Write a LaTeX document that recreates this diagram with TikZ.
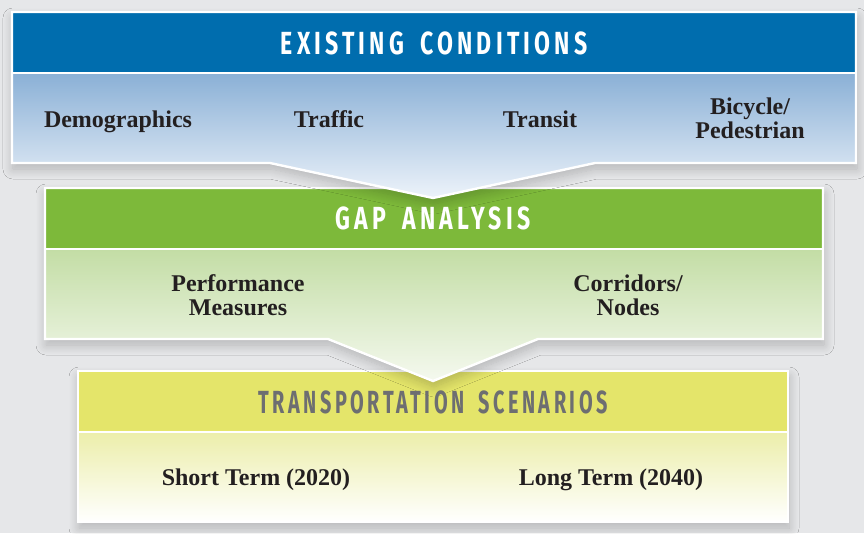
\documentclass[tikz,border=0pt]{standalone}
\usepackage{fontspec}
\setmainfont{Liberation Serif}
\newfontfamily\headfont[FakeStretch=0.72,LetterSpace=13,WordSpace=1.7]{Fira Sans}
\newfontfamily\headfontnarrow[FakeStretch=0.62,LetterSpace=11,WordSpace=1.7]{Fira Sans}
\usetikzlibrary{shadows.blur}

\definecolor{pagegray}{HTML}{E6E7E9}
\definecolor{condblue}{HTML}{006DAE}
\definecolor{condlight}{HTML}{8AB0D6}
\definecolor{condpale}{HTML}{EDF3FA}
\definecolor{gapgreen}{HTML}{7DB93A}
\definecolor{gaplight}{HTML}{C3DDA5}
\definecolor{gappale}{HTML}{F5F9EF}
\definecolor{scenyellow}{HTML}{E4E56A}
\definecolor{scenlight}{HTML}{ECEEAA}
\definecolor{titlegray}{HTML}{6D6E71}
\definecolor{itemblack}{HTML}{231F20}

\begin{document}
\begin{tikzpicture}[x=1pt, y=-1pt,
        panelshadow/.style={fill=white, blur shadow={shadow xshift=1pt, shadow yshift=-6pt, shadow blur radius=10pt, shadow blur steps=12, shadow opacity=22}},
        rim/.style={draw=white, line width=2.4pt, line join=miter},
        headtext/.style={font=\headfont\bfseries\fontsize{32}{32}\selectfont, inner sep=0pt},
        item/.style={font=\bfseries\fontsize{24}{24}\selectfont, text=itemblack, align=center, inner sep=0pt},
        ]
    \fill[pagegray] (0,0) rectangle (864,533);
    \useasboundingbox (0,0) rectangle (864,533);

    % transportation scenarios
    \path[panelshadow] (78,371) rectangle (788,522);
    \shade[top color=scenlight, bottom color=white] (78,432) rectangle (788,522);
    \fill[scenyellow] (78,371) rectangle (788,432);
    \draw[rim] (78,371) rectangle (788,522);
    \draw[rim] (78,432) -- (788,432);

    % gap analysis
    \path[panelshadow] (45,188) -- (823,188) -- (823,339) -- (538,339) -- (433,381) -- (328,339) -- (45,339) -- cycle;
    \shade[top color=gaplight, bottom color=gappale] (45,249) -- (823,249) -- (823,339) -- (538,339) -- (433,381) -- (328,339) -- (45,339) -- cycle;
    \fill[gapgreen] (45,188) rectangle (823,249);
    \draw[rim] (45,188) -- (823,188) -- (823,339) -- (538,339) -- (433,381) -- (328,339) -- (45,339) -- cycle;
    \draw[rim] (45,249) -- (823,249);

    % existing conditions
    \path[panelshadow] (12,12) -- (856,12) -- (856,163) -- (595,163) -- (433,198) -- (270,163) -- (12,163) -- cycle;
    \shade[top color=condlight, bottom color=condpale] (12,73) -- (856,73) -- (856,163) -- (595,163) -- (433,198) -- (270,163) -- (12,163) -- cycle;
    \fill[condblue] (12,12) rectangle (856,73);
    \draw[rim] (12,12) -- (856,12) -- (856,163) -- (595,163) -- (433,198) -- (270,163) -- (12,163) -- cycle;
    \draw[rim] (12,73) -- (856,73);

    \node[headtext, text=white] (condtitle) at (434,43) {EXISTING CONDITIONS};
    \node[item, anchor=base] (demo) at (118,127) {Demographics};
    \node[item, anchor=base] (traffic) at (329,127) {Traffic};
    \node[item, anchor=base] (transit) at (540,127) {Transit};
    \node[item] (bike) at (750,118) {Bicycle/\\Pedestrian};

    \node[headtext, text=white] (gaptitle) at (433,218) {GAP ANALYSIS};
    \node[item] (perf) at (238,295) {Performance\\Measures};
    \node[item] (corr) at (628,295) {Corridors/\\Nodes};

    \node[headtext, font=\headfontnarrow\bfseries\fontsize{32}{32}\selectfont, text=titlegray] (scentitle) at (433,402) {TRANSPORTATION SCENARIOS};
    \node[item, anchor=base] (short) at (256,485) {Short Term (2020)};
    \node[item, anchor=base] (long) at (611,485) {Long Term (2040)};
\end{tikzpicture}
\end{document}
